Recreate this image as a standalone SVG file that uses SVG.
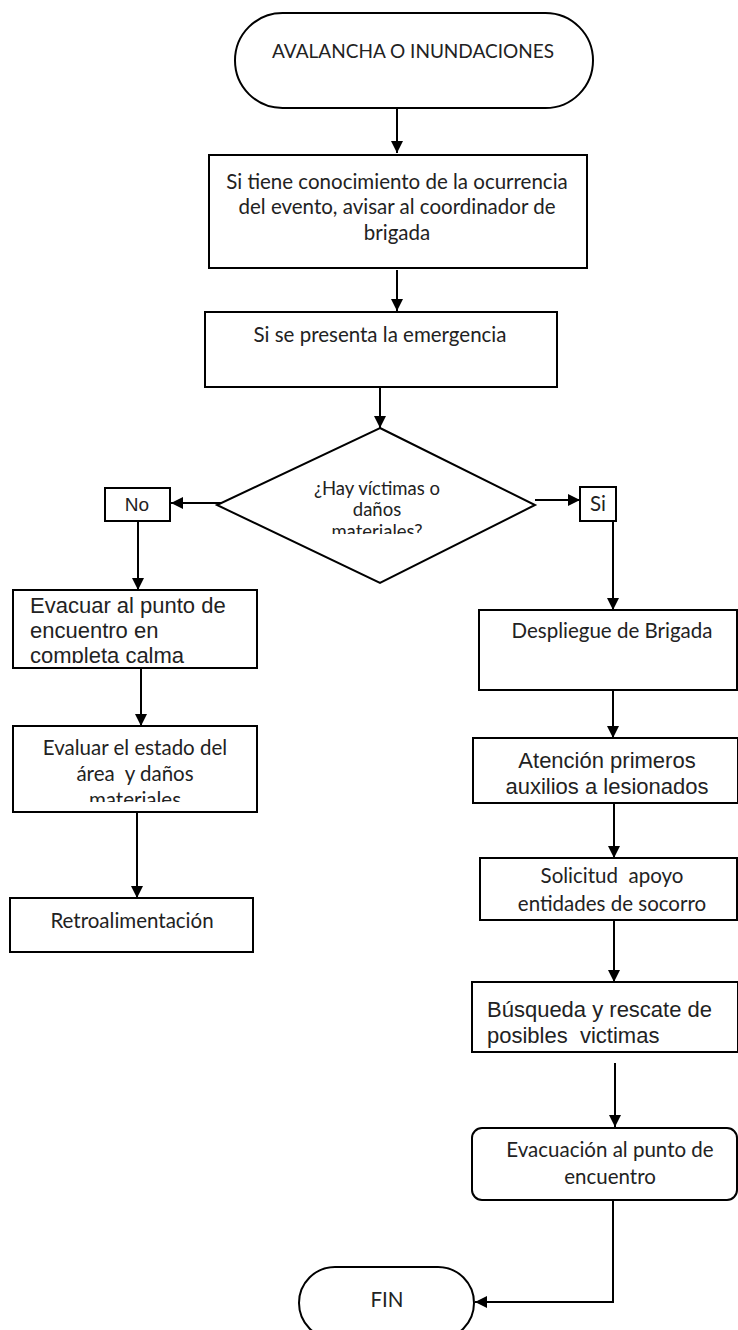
<svg xmlns="http://www.w3.org/2000/svg" width="738" height="1330" viewBox="0 0 738 1330">
<style>
.shape{fill:#fff;stroke:#000;stroke-width:2}
.c{font-family:Lato,"Open Sans",sans-serif;font-size:20.5px;fill:#222;text-anchor:middle}
.a{font-family:"Liberation Sans",Arial,sans-serif;font-size:22px;fill:#222}
.am{text-anchor:middle}
.conn{fill:none;stroke:#000;stroke-width:2}
</style>
<defs>
<marker id="ah" viewBox="0 0 12 12" refX="12" refY="6" markerWidth="12" markerHeight="12" markerUnits="userSpaceOnUse" orient="auto">
<path d="M0,0 L12,6 L0,12 Z" fill="#000"/>
</marker>
<clipPath id="clipD"><rect x="260" y="470" width="240" height="64"/></clipPath>
<clipPath id="clipE"><rect x="14" y="591" width="242" height="72"/></clipPath>
<clipPath id="clipV"><rect x="14" y="727" width="242" height="75"/></clipPath>
</defs>
<rect width="738" height="1330" fill="#fff"/>
<g id="connectors">
<path class="conn" d="M397,108 V153" marker-end="url(#ah)"/>
<path class="conn" d="M397,270 V311" marker-end="url(#ah)"/>
<path class="conn" d="M380,388 V428" marker-end="url(#ah)"/>
<path class="conn" d="M226,503 H171" marker-end="url(#ah)"/>
<path class="conn" d="M535,500 H580" marker-end="url(#ah)"/>
<path class="conn" d="M138,521 V590" marker-end="url(#ah)"/>
<path class="conn" d="M613,522 V610" marker-end="url(#ah)"/>
<path class="conn" d="M141,668 V726" marker-end="url(#ah)"/>
<path class="conn" d="M137,813 V898" marker-end="url(#ah)"/>
<path class="conn" d="M613,690 V738" marker-end="url(#ah)"/>
<path class="conn" d="M614,797 V858" marker-end="url(#ah)"/>
<path class="conn" d="M614,920 V982" marker-end="url(#ah)"/>
<path class="conn" d="M615,1063 V1127" marker-end="url(#ah)"/>
<path class="conn" d="M613,1200 V1302 H475" marker-end="url(#ah)"/>
</g>
<g id="start">
<rect class="shape" x="235" y="13" width="358" height="95" rx="47.5"/>
<text class="c" x="413" y="58" style="font-size:19px">AVALANCHA O INUNDACIONES</text>
</g>
<g id="aviso">
<rect class="shape" x="209" y="155" width="378" height="113"/>
<text class="c" x="397" y="189">Si tiene conocimiento de la ocurrencia</text>
<text class="c" x="397" y="214">del evento, avisar al coordinador de</text>
<text class="c" x="397" y="240">brigada</text>
</g>
<g id="emergencia">
<rect class="shape" x="205" y="312" width="352" height="75"/>
<text class="c" x="380" y="342">Si se presenta la emergencia</text>
</g>
<g id="decision">
<polygon class="shape" points="380,428 535,505 380,583 217,505"/>
<g clip-path="url(#clipD)">
<text class="c" x="377" y="495" style="font-size:18.5px">¿Hay víctimas o</text>
<text class="c" x="377" y="516" style="font-size:18.5px">daños</text>
<text class="c" x="377" y="538" style="font-size:18.5px">materiales?</text>
</g>
</g>
<g id="no">
<rect class="shape" x="105" y="488" width="65" height="33"/>
<text class="a am" x="137" y="511" style="font-size:19px">No</text>
</g>
<g id="si">
<rect class="shape" x="580" y="487" width="36" height="34"/>
<text class="c" x="598" y="511">Si</text>
</g>
<g id="evacuar">
<rect class="shape" x="13" y="590" width="244" height="78"/>
<g clip-path="url(#clipE)">
<text class="a" x="30" y="613">Evacuar al punto de</text>
<text class="a" x="30" y="638">encuentro en</text>
<text class="a" x="30" y="663">completa calma</text>
</g>
</g>
<g id="evaluar">
<rect class="shape" x="13" y="726" width="244" height="86"/>
<g clip-path="url(#clipV)">
<text class="c" x="135" y="755">Evaluar el estado del</text>
<text class="c" x="135" y="781" xml:space="preserve">área  y daños</text>
<text class="c" x="135" y="807">materiales</text>
</g>
</g>
<g id="retro">
<rect class="shape" x="10" y="898" width="243" height="54"/>
<text class="c" x="132" y="928">Retroalimentación</text>
</g>
<g id="despliegue">
<rect class="shape" x="479" y="610" width="258" height="80"/>
<text class="c" x="612" y="638">Despliegue de Brigada</text>
</g>
<g id="atencion">
<rect class="shape" x="473" y="738" width="265" height="65"/>
<text class="a am" x="607" y="768">Atención primeros</text>
<text class="a am" x="607" y="794">auxilios a lesionados</text>
</g>
<g id="solicitud">
<rect class="shape" x="480" y="858" width="257" height="62"/>
<text class="c" x="612" y="883" xml:space="preserve">Solicitud  apoyo</text>
<text class="c" x="612" y="911">entidades de socorro</text>
</g>
<g id="busqueda">
<rect class="shape" x="472" y="982" width="266" height="70"/>
<text class="a" x="487" y="1017">Búsqueda y rescate de</text>
<text class="a" x="487" y="1043" xml:space="preserve">posibles  victimas</text>
</g>
<g id="evacuacion">
<rect class="shape" x="472" y="1128" width="265" height="72" rx="10"/>
<text class="c" x="610" y="1157">Evacuación al punto de</text>
<text class="c" x="610" y="1184">encuentro</text>
</g>
<g id="fin">
<rect class="shape" x="299" y="1267" width="175" height="72" rx="36"/>
<text class="c" x="387" y="1307">FIN</text>
</g>
</svg>
